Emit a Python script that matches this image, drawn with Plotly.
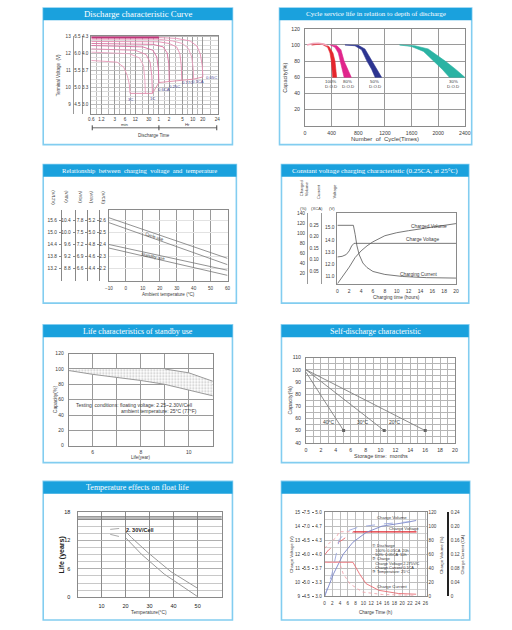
import plotly.graph_objects as go
import math

# ======================= DATA =======================
# Panel 1 - Discharge characteristic curve (time in minutes, 12V block voltage)
p1_rates = ['0.05C', '0.1CA', '0.17C', '0.25C', '0.6CA', '1C', '2C', '3C']
p1_time = [
    [0.6, 60, 200, 500, 800, 1000, 1150, 1200],
    [0.6, 60, 150, 300, 450, 560, 620, 640],
    [0.6, 60, 120, 200, 250, 275, 285],
    [0.6, 40, 80, 105, 118, 122],
    [0.6, 20, 40, 52, 58, 60],
    [0.6, 12, 25, 33, 37, 38.7],
    [0.6, 8, 16, 21, 23, 24],
    [0.6, 3.5, 5.5, 7, 8, 8.4],
]
p1_volt = [
    [12.95, 12.95, 12.9, 12.75, 12.45, 12.0, 11.3, 10.63],
    [12.85, 12.85, 12.75, 12.6, 12.3, 11.8, 11.1, 10.5],
    [12.72, 12.7, 12.6, 12.4, 12.0, 11.3, 10.45],
    [12.6, 12.55, 12.4, 12.05, 11.4, 10.35],
    [12.48, 12.4, 12.2, 11.8, 11.1, 10.3],
    [12.28, 12.2, 11.95, 11.5, 10.7, 9.66],
    [12.09, 12.0, 11.75, 11.3, 10.5, 9.66],
    [11.6, 11.5, 11.2, 10.7, 10.2, 9.66],
]
p1_end_time = [8.4, 38.7, 60, 122, 285, 640, 1200]
p1_end_volt = [9.66, 9.66, 10.3, 10.35, 10.45, 10.5, 10.63]
p1_xtick_vals = [0.6, 1.2, 3, 6, 12, 30, 60, 120, 300, 600, 1200, 3200]
p1_xtick_text = ['0.6', '1.2', '3', '6', '12', '30', '1', '2', '5', '10', '20', '24']
p1_xminor = [0.85, 1.9, 4.2, 8.5, 19, 42, 85, 190, 420, 850, 1950]
p1_vvals = [9, 10, 11, 12, 13]
p1_v12 = ['9', '10', '11', '12', '13']
p1_v6 = ['4.5', '5.0', '5.5', '6.0', '6.5']
p1_v4 = ['3.0', '3.3', '3.7', '4.0', '4.3']
p1_label_rates = ['3C', '1C', '0.6CA', '0.25C', '0.17C', '0.1CA', '0.05C']

# Panel 2 - Cycle service life vs depth of discharge
p2_dod = ['100%', '80%', '50%', '30%']
p2_in_cyc = [[100, 250, 340, 375, 395, 410, 416], [380, 450, 500, 530, 560, 587],
             [600, 750, 850, 930, 1000, 1053], [1420, 1600, 1780, 1934, 2060, 2169]]
p2_in_cap = [[100, 101, 97, 90, 80, 70, 60], [100, 97, 90, 80, 70, 60],
             [100, 99, 94, 80, 70, 60], [100, 98, 92, 80, 70, 60]]
p2_out_cyc = [[100, 250, 360, 420, 450, 465, 475], [380, 480, 540, 587, 640, 695],
              [600, 800, 900, 1004, 1080, 1150], [1420, 1650, 1850, 2105, 2260, 2400]]
p2_out_cap = [[100, 101.5, 98, 90, 80, 70, 60], [100, 99, 94, 80, 70, 60],
              [100, 99.5, 95, 80, 70, 60], [100, 99, 95, 80, 70, 60]]
p2_hump_cyc = [30, 120, 200, 280, 340]
p2_hump_cap = [100, 101.8, 102, 101, 99]
p2_xticks = [0, 400, 800, 1200, 1600, 2000, 2400]
p2_yticks = [20, 40, 60, 80, 100, 120]

# Panel 3 - Charging voltage vs temperature (V/cell)
p3_temp = [-10, 60]
p3_cycle_hi = [2.625, 2.283]
p3_cycle_lo = [2.584, 2.23]
p3_standby_hi = [2.40, 2.183]
p3_standby_lo = [2.37, 2.14]
p3_cell_vals = [2.2, 2.3, 2.4, 2.5, 2.6]
p3_v12 = ['13.2', '13.8', '14.4', '15.0', '15.6']
p3_v8 = ['8.8', '9.2', '9.6', '10.0', '10.4']
p3_v6 = ['6.6', '6.9', '7.2', '7.5', '7.8']
p3_v4 = ['4.4', '4.6', '4.8', '5.0', '5.2']
p3_vc = ['2.2', '2.3', '2.4', '2.5', '2.6']
p3_heads = ['(V/12V)', '(V/8V)', '(V/6V)', '(V/4V)', '(V/CE)']
p3_xticks = [-10, 0, 10, 20, 30, 40, 50, 60]

# Panel 4 - Constant voltage charging (0.25CA, 25C)
p4_vt = [0, 0.8, 1.5, 2.0, 2.4, 2.8, 3.0, 20]
p4_volt = [12.6, 12.65, 12.8, 13.1, 13.5, 13.72, 13.72, 13.72]
p4_it = [0, 2.7, 3.0, 3.3, 3.7, 4.3, 5.0, 6.0, 8.0, 11, 15, 20]
p4_curr = [0.25, 0.25, 0.21, 0.16, 0.12, 0.085, 0.065, 0.048, 0.035, 0.026, 0.021, 0.019]
p4_qt = [0, 1, 2, 3, 4, 5, 6, 8, 10, 12, 15, 20]
p4_vol = [0, 16, 33, 52, 65, 75, 83, 95, 101, 105, 110, 119]
p4_vol_ticks = [0, 20, 40, 60, 80, 100, 120, 140]
p4_cur_ticks = [0.05, 0.10, 0.15, 0.20, 0.25]
p4_cur_text = ['0.05', '0.10', '0.15', '0.20', '0.25']
p4_v_ticks = [11, 12, 13, 14, 15]
p4_v_text = ['11.0', '12.0', '13.0', '14.0', '15.0']
p4_xticks = [0, 2, 4, 6, 8, 10, 12, 14, 16, 18, 20]

# Panel 5 - Life characteristics of standby use
p5_year = [5, 6, 7, 8, 9, 10, 11]
p5_hi = [99, 100, 100, 100, 100, 95, 84]
p5_lo = [98, 93, 89, 85, 80, 72.5, 65]
p5_xvals = [5, 6, 7, 8, 9, 10, 11]
p5_xtext = ['', '6', '', '8', '', '10', '']

# Panel 6 - Self-discharge
p6_temps = ['40°C', '30°C', '20°C']
p6_month = [[0, 5.05], [0, 10.5], [0, 16]]
p6_cap = [[98, 50], [100, 50], [100, 50]]

# Panel 7 - Temperature effects on float life
p7_hi_dash_t = [13.6, 17.7, 19.8]
p7_hi_dash_y = [14.35, 14.56, 14.0]
p7_hi_t = [19.8, 22.5, 29.3, 38.9, 49.8]
p7_hi_y = [14.0, 12.6, 9.45, 5.4, 1.96]
p7_lo_dash_t = [13.6, 18.4, 20.2]
p7_lo_dash_y = [13.3, 12.8, 12.5]
p7_lo_t = [20.2, 26.6, 36.1, 49.8]
p7_lo_y = [12.5, 9.1, 4.9, 0.2]

# Panel 8 - Charging characteristic curves
p8_vline_t = [7.4, 23.7]
p8_vline_v = [13.59, 13.59]
p8_va_t = [0, 1, 2, 3, 3.8, 7.4]
p8_va_v = [12.4, 12.75, 12.95, 13.2, 13.6, 13.6]
p8_vb_t = [0, 1, 2, 3.5, 4.5, 6, 7.4]
p8_vb_v = [11.95, 12.3, 12.5, 12.85, 13.0, 13.3, 13.59]
p8_qa_t = [0, 2.3, 4.8, 7.3, 10.7, 14.8, 20.7, 23.6]
p8_qa = [0, 32, 60, 77, 91, 100, 105, 108]
p8_qb_t = [0, 1.9, 3.8, 5.7, 9, 14.8, 23.6]
p8_qb = [0, 32, 81, 93, 99, 103, 107]
p8_ia_t = [0, 7.3, 9, 10.7, 14, 19, 23.6]
p8_ia = [0.097, 0.097, 0.064, 0.036, 0.017, 0.008, 0.006]
p8_ib_t = [0, 3.8, 4.8, 6.5, 9.8, 15, 23.6]
p8_ib = [0.097, 0.097, 0.064, 0.036, 0.012, 0.005, 0.003]
p8_vvals = [9, 10, 11, 12, 13, 14, 15]
p8_v12 = ['9', '10', '11', '12', '13', '14', '15']
p8_v6vals = [4.5, 5.0, 5.5, 6.0, 6.5, 7.0, 7.5]
p8_v6 = ['4.5', '5.0', '5.5', '6.0', '6.5', '7.0', '7.5']
p8_v4 = ['3.0', '3.3', '3.7', '4.0', '4.3', '4.7', '5.0']
p8_xticks = [0, 2, 4, 6, 8, 10, 12, 14, 16, 18, 20, 22, 24, 26]
p8_cur_ticks = [0, 0.04, 0.08, 0.12, 0.16, 0.20, 0.24]
p8_cur_text = ['0', '0.04', '0.08', '0.12', '0.16', '0.20', '0.24']
p8_vol_ticks = [0, 20, 40, 60, 80, 100, 120]

titles = ['Discharge characteristic Curve',
          'Cycle service life in relation to depth of discharge',
          'Relationship  between  charging  voltage  and  temperature',
          'Constant voltage charging characteristic (0.25CA, at 25°C)',
          'Life characteristics of standby use',
          'Self-discharge characteristic',
          'Temperature effects on float life',
          '']

# ======================= LAYOUT HELPERS =======================
W, H = 512, 630
def px(x): return x / W
def py(y): return 1 - y / H
def xn(n): return 'x' if n == 1 else f'x{n}'
def yn(n): return 'y' if n == 1 else f'y{n}'
def xk(n): return 'xaxis' if n == 1 else f'xaxis{n}'
def yk(n): return 'yaxis' if n == 1 else f'yaxis{n}'

FONT = 'Liberation Sans, Arial, sans-serif'
SERIF = 'Liberation Serif, Times New Roman, serif'
TXT = '#3a3a3a'
GRID = '#cfcfcf'
DGRID = '#9a9a9a'
FRAME = '#8a8a8a'
BLUE = '#1aa1dd'
BORDER = '#82cdf0'

fig = go.Figure()
layout = {}
shapes = []
annotations = []

def tf(size=5, color=TXT, family=FONT):
    return dict(size=size, color=color, family=family)

def set_axes(n, box, xkw, ykw):
    x0, y0, x1, y1 = box
    X = dict(domain=[px(x0), px(x1)], anchor=yn(n), showline=True, linecolor=FRAME, linewidth=1,
             mirror=True, zeroline=False, showgrid=True, gridcolor=GRID, ticks='', tickfont=tf(5),
             fixedrange=True, ticklabelstandoff=1)
    Y = dict(domain=[py(y1), py(y0)], anchor=xn(n), showline=True, linecolor=FRAME, linewidth=1,
             mirror=True, zeroline=False, showgrid=True, gridcolor=GRID, ticks='', tickfont=tf(5),
             fixedrange=True, ticklabelstandoff=1)
    X.update(xkw)
    Y.update(ykw)
    layout[xk(n)] = X
    layout[yk(n)] = Y

def free_y(idx, n, box, xpos, rng, vals, text, xfirst, side='left', showline=False, lc=FRAME, lw=1,
           ticks='', ticklen=2, size=5, anchor='free'):
    x0, y0, x1, y1 = box
    d = dict(overlaying=yn(n), side=side, range=rng, tickvals=vals, ticktext=text,
             domain=[py(y1), py(y0)], showgrid=False, zeroline=False, showline=showline,
             linecolor=lc, linewidth=lw, ticks=ticks, ticklen=ticklen, tickcolor=lc,
             tickfont=tf(size), fixedrange=True, ticklabelstandoff=1)
    if anchor == 'free':
        d.update(anchor='free', position=px(xpos))
    else:
        d.update(anchor=anchor)
    layout[yk(idx)] = d
    # invisible carrier so that the extra scale gets drawn
    fig.add_trace(go.Scatter(x=[xfirst] * len(vals), y=vals, mode='markers', marker=dict(opacity=0, size=1),
                             xaxis=xn(n), yaxis=yn(idx), showlegend=False, hoverinfo='skip'))

def line(n, x, y, color, width=1, dash=None, yref=None, **kw):
    fig.add_trace(go.Scatter(x=x, y=y, mode='lines', line=dict(color=color, width=width, dash=dash),
                             xaxis=xn(n), yaxis=yref or yn(n), showlegend=False, hoverinfo='skip', **kw))

def txt(x, y, text, size=5, color=TXT, xref='paper', yref='paper', angle=0,
        xanchor='center', yanchor='middle', family=FONT):
    if xref == 'paper':
        x = px(x)
    if yref == 'paper':
        y = py(y)
    annotations.append(dict(x=x, y=y, xref=xref, yref=yref, text=text, showarrow=False,
                            font=dict(size=size, color=color, family=family), textangle=angle,
                            xanchor=xanchor, yanchor=yanchor, borderpad=0))

def hline_px(x0, x1, y, color='#333', w=1):
    shapes.append(dict(type='line', xref='paper', yref='paper', x0=px(x0), x1=px(x1),
                       y0=py(y), y1=py(y), line=dict(color=color, width=w)))

def vline_px(x, y0, y1, color='#333', w=1):
    shapes.append(dict(type='line', xref='paper', yref='paper', x0=px(x), x1=px(x),
                       y0=py(y0), y1=py(y1), line=dict(color=color, width=w)))

# ---------- panel frames ----------
panels = [(40, 5, 233, 143, 8.8), (281, 5, 477, 143, 7.0),
          (40, 163, 237, 303, 6.6), (283, 163, 474, 303, 7.0),
          (40, 325, 233, 464, 8.0), (283, 325, 474, 464, 8.0),
          (40, 483, 233, 623, 8.0), (283, 483, 475, 623, 8.0)]
for (l, t, r, b, fs), title in zip(panels, titles):
    shapes.append(dict(type='rect', xref='paper', yref='paper', x0=px(l), x1=px(r), y0=py(b), y1=py(t),
                       line=dict(color=BORDER, width=1.6), fillcolor='rgba(0,0,0,0)'))
    shapes.append(dict(type='rect', xref='paper', yref='paper', x0=px(l), x1=px(r), y0=py(t + 12.5), y1=py(t),
                       line=dict(width=0), fillcolor=BLUE))
    if title:
        txt((l + r) / 2, t + 6.5, title, size=fs, color='white', family=SERIF)

# ======================= PANEL 1 =======================
B1 = (89, 33, 218, 112)
set_axes(1, B1,
         dict(type='log', range=[math.log10(0.6), math.log10(3300)], tickvals=p1_xtick_vals,
              ticktext=p1_xtick_text, gridcolor=DGRID, tickfont=tf(4.6),
              minor=dict(tickvals=p1_xminor, showgrid=True, gridcolor=DGRID, gridwidth=0.7)),
         dict(range=[8.45, 13.06], tickvals=p1_vvals, ticktext=p1_v4, tickfont=tf(4.6),
              gridcolor='#bdbdbd', minor=dict(dtick=0.25, showgrid=True, gridcolor='#dddddd')))
free_y(20, 1, B1, 80, [8.45, 13.06], p1_vvals, p1_v6, 0.6, showline=True, lc='#999', size=4.6)
free_y(21, 1, B1, 70, [8.45, 13.06], p1_vvals, p1_v12, 0.6, showline=True, lc='#999', size=4.6)
pinks = ['#e88fb4', '#eaa0bf', '#e48bb0', '#d9709e', '#d96ca0', '#e084ad', '#e9a3c1', '#e99ab9']
for i, (t, v) in enumerate(zip(p1_time, p1_volt)):
    line(1, t, v, pinks[i], width=0.9)
line(1, p1_time[0][:2], p1_volt[0][:2], '#c2357a', width=2)
line(1, p1_end_time, p1_end_volt, '#e08aa8', width=0.9)
p1_lab_pos = [(8.6, 9.31), (40, 9.37), (84, 9.9), (174, 10.07), (415, 10.31), (867, 10.37), (2205, 10.6)]
for lab, (t, v) in zip(p1_label_rates, p1_lab_pos):
    txt(math.log10(t), v, lab, size=4.2, color='#4d4d9a', xref='x', yref='y')
txt(55, 73, 'Terminal Voltage  (V)', size=4.5, angle=-90)
hline_px(90, 217, 126, '#444', 0.8)
for xx in (90, 158, 217):
    vline_px(xx, 123.5, 128.5, '#444', 1)
txt(123, 122.5, 'min', size=4.3)
txt(187, 122.5, 'Hr', size=4.3)
txt(153, 133.5, 'Discharge Time', size=4.5)

# ======================= PANEL 2 =======================
B2 = (307, 26, 470, 124)
set_axes(2, B2,
         dict(range=[0, 2400], tickvals=p2_xticks, gridcolor=DGRID, tickfont=tf(5.2), ticklabelstandoff=2),
         dict(range=[0, 120], tickvals=p2_yticks, gridcolor=DGRID, tickfont=tf(5.2), ticklabelstandoff=3))
p2_colors = ['#e5262d', '#e0268c', '#2d3591', '#2bb3a3']
for i in range(4):
    xs = p2_in_cyc[i] + p2_out_cyc[i][::-1]
    ys = p2_in_cap[i] + p2_out_cap[i][::-1]
    fig.add_trace(go.Scatter(x=xs, y=ys, mode='lines', fill='toself', fillcolor=p2_colors[i],
                             line=dict(color=p2_colors[i], width=0.6), xaxis='x2', yaxis='y2',
                             showlegend=False, hoverinfo='skip'))
line(2, p2_hump_cyc, p2_hump_cap, '#f2a3b8', width=1.6)
p2_lab_x = [385, 640, 1050, 2225]
for lab, xx in zip(p2_dod, p2_lab_x):
    txt(xx, 55, lab, size=4.4, xref='x2', yref='y2')
    txt(xx, 48.5, 'D.O.D', size=4.4, xref='x2', yref='y2')
txt(287, 75, 'Capacity(%)', size=5.5, angle=-90)
txt(388.5, 137, 'Number  of  Cycle(Times)', size=6)

# ======================= PANEL 3 =======================
B3 = (107, 209, 228, 281)
set_axes(3, B3,
         dict(range=[-10, 60], tickvals=p3_xticks, gridcolor=DGRID, tickfont=tf(4.6), ticklabelstandoff=2),
         dict(range=[2.09, 2.69], tickvals=p3_cell_vals, ticktext=p3_vc, gridcolor='#e2e2e2',
              tickfont=tf(4.8), showline=True))
free_y(22, 3, B3, 97, [2.09, 2.69], p3_cell_vals, p3_v4, -10, showline=True, lc='#888', ticks='outside', size=4.8)
free_y(23, 3, B3, 85, [2.09, 2.69], p3_cell_vals, p3_v6, -10, showline=True, lc='#888', ticks='outside', size=4.8)
free_y(24, 3, B3, 72, [2.09, 2.69], p3_cell_vals, p3_v8, -10, showline=True, lc='#888', ticks='outside', size=4.8)
free_y(25, 3, B3, 58, [2.09, 2.69], p3_cell_vals, p3_v12, -10, showline=True, lc='#888', ticks='outside', size=4.8)
for yy in (p3_cycle_hi, p3_cycle_lo, p3_standby_hi, p3_standby_lo):
    line(3, p3_temp, yy, '#777', width=0.8)
txt(16.7, 2.47, 'Cycle use', size=4.3, xref='x3', yref='y3', angle=18.7)
txt(16.2, 2.30, 'Standby use', size=4.3, xref='x3', yref='y3', angle=12)
for hx, head in zip([51, 64, 78, 90, 102], p3_heads):
    txt(hx, 196, head, size=4.3, angle=90)
txt(167.5, 294, 'Ambient temperature (°C)', size=4.6)

# ======================= PANEL 4 =======================
B4 = (340, 212, 461, 283.5)
set_axes(4, B4,
         dict(range=[0, 20], tickvals=p4_xticks, showgrid=False, tickfont=tf(5), ticklabelstandoff=2),
         dict(range=[0, 140], tickvals=p4_vol_ticks, showticklabels=False, showgrid=False))
free_y(26, 4, B4, 309, [0, 140], p4_vol_ticks[1:], [str(v) for v in p4_vol_ticks[1:]], 0,
       showline=True, lc='#999', size=4.8)
free_y(27, 4, B4, 323, [-0.006, 0.304], p4_cur_ticks, p4_cur_text, 0, showline=True, lc='#999', size=4.8)
free_y(28, 4, B4, 338, [10.39, 16.22], p4_v_ticks, p4_v_text, 0, showline=False, size=4.8)
line(4, p4_vt, p4_volt, '#555', width=0.8, yref='y28')
line(4, p4_it, p4_curr, '#555', width=0.8, yref='y27')
line(4, p4_qt, p4_vol, '#555', width=0.8)
txt(15.5, 114, 'Charged Volume', size=4.8, xref='x4', yref='y4')
txt(14.3, 14.03, 'Charge Voltage', size=4.8, xref='x4', yref='y28')
txt(13.6, 0.034, 'Charging Current', size=4.8, xref='x4', yref='y27')
txt(303, 187, 'Charged', size=4.2, angle=-90)
txt(308, 187, 'Volume', size=4.2, angle=-90)
txt(320, 190, 'Current', size=4.2, angle=-90)
txt(337, 190, 'Voltage', size=4.2, angle=-90)
txt(305, 207, '(%)', size=4.2)
txt(319, 207, '(XCA)', size=4.2)
txt(335, 207, '(V)', size=4.2)
txt(400.5, 297, 'Charging time (hours)', size=4.8)

# ======================= PANEL 5 =======================
B5 = (66, 354, 213, 447)
set_axes(5, B5,
         dict(range=[5, 11], tickvals=p5_xvals, ticktext=p5_xtext, gridcolor=DGRID, tickfont=tf(5),
              ticklabelstandoff=1),
         dict(range=[0, 120], dtick=20, gridcolor=DGRID, tickfont=tf(5), ticklabelstandoff=3))
fig.add_trace(go.Scatter(x=p5_year + p5_year[::-1], y=p5_hi + p5_lo[::-1], mode='lines', fill='toself',
                         fillcolor='rgba(255,255,255,0)',
                         fillpattern=dict(shape='.', fgcolor='#8a8a8a', bgcolor='white', size=3, solidity=0.3),
                         line=dict(width=0), xaxis='x5', yaxis='y5', showlegend=False, hoverinfo='skip'))
line(5, p5_year, p5_lo, '#999', width=1)
line(5, p5_year[4:], p5_hi[4:], '#999', width=1)
txt(72, 406, 'Testing  conditions: floating voltage: 2.25~2.30V/Cell', size=5, xanchor='left')
txt(118, 412, 'ambient temperature: 25°C (77°F)', size=5, xanchor='left')
txt(52, 400, 'Capacity(%)', size=5, angle=-90)
txt(139.5, 458.5, 'Life(year)', size=4.5)

# ======================= PANEL 6 =======================
B6 = (308, 358, 460, 444)
set_axes(6, B6,
         dict(range=[0, 20], dtick=2, gridcolor='#b5b5b5', tickfont=tf(5.2), ticklabelstandoff=2,
              minor=dict(dtick=1, showgrid=True, gridcolor='#b5b5b5')),
         dict(range=[40, 110], dtick=10, gridcolor='#b5b5b5', tickfont=tf(5.2), ticklabelstandoff=3,
              minor=dict(dtick=5, showgrid=True, gridcolor='#b5b5b5')))
for m, c in zip(p6_month, p6_cap):
    line(6, m, c, '#808080', width=0.9)
fig.add_trace(go.Scatter(x=[m[-1] for m in p6_month], y=[c[-1] for c in p6_cap], mode='markers',
                         marker=dict(symbol='square', size=3, color='#666'), xaxis='x6', yaxis='y6',
                         showlegend=False, hoverinfo='skip'))
for lab, xx in zip(p6_temps, [3.1, 7.7, 11.9]):
    txt(xx, 57.3, lab, size=5, xref='x6', yref='y6')
txt(292, 401, 'Capacity(%)', size=5.2, angle=-90)
txt(384, 457, 'Storage time:  months', size=5.5)

# ======================= PANEL 7 =======================
B7 = (75, 514, 222, 600)
set_axes(7, B7,
         dict(range=[0, 60], tickvals=[10, 20, 30, 40, 50], gridcolor='#8c8c8c',
              tickfont=tf(5.5, '#222'), ticklabelstandoff=3),
         dict(range=[0, 18], tickvals=[0, 6, 12, 18], gridcolor='#b0b0b0', tickfont=tf(5.5, '#222'),
              ticklabelstandoff=5, minor=dict(dtick=1.5, showgrid=True, gridcolor='#c8c8c8')))
for yy in (16.5, 17.0):
    shapes.append(dict(type='line', xref='x7 domain', yref='y7', x0=0, x1=1, y0=yy, y1=yy,
                       line=dict(color='#777', width=1.2)))
line(7, p7_hi_dash_t, p7_hi_dash_y, '#aaa', width=1, dash='dash')
line(7, p7_lo_dash_t, p7_lo_dash_y, '#aaa', width=1, dash='dash')
line(7, p7_hi_t, p7_hi_y, '#999', width=1)
line(7, p7_lo_t, p7_lo_y, '#999', width=1)
txt(26, 14.3, '<b>2. 30V/Cell</b>', size=5.5, xref='x7', yref='y7', color='#222')
txt(59, 557, '<b>Life (years)</b>', size=7, angle=-90, color='#222')
txt(148, 615, 'Temperature(°C)', size=4.8)

# ======================= PANEL 8 =======================
B8 = (327, 514, 431, 599)
set_axes(8, B8,
         dict(range=[0, 26.3], tickvals=p8_xticks, gridcolor='#bdbdbd', tickfont=tf(4.6), ticklabelstandoff=2),
         dict(range=[9, 15], tickvals=p8_vvals, ticktext=p8_v4, gridcolor='#bdbdbd', tickfont=tf(4.6),
              minor=dict(dtick=0.5, showgrid=True, gridcolor='#d3d3d3')))
free_y(29, 8, B8, 316, [4.5, 7.5], p8_v6vals, p8_v6, 0, ticks='outside', lc='#666', ticklen=2, size=4.6)
free_y(30, 8, B8, 306, [9, 15], p8_vvals, p8_v12, 0, ticks='outside', lc='#666', ticklen=2, size=4.6)
free_y(31, 8, B8, 0, [0, 120], p8_vol_ticks, [str(v) for v in p8_vol_ticks], 0, side='right',
       anchor='x8', size=4.6)
free_y(32, 8, B8, 452, [0, 0.24], p8_cur_ticks, p8_cur_text, 0, side='right', showline=True,
       lc='#222', lw=1.6, size=4.6)
line(8, p8_va_t, p8_va_v, '#f0a0a8', width=0.9, dash='dot')
line(8, p8_vb_t, p8_vb_v, '#e86a70', width=0.9, dash='dash')
line(8, p8_vline_t, p8_vline_v, '#e0242c', width=1.4)
line(8, p8_qa_t, p8_qa, '#7a86c8', width=0.9, yref='y31')
line(8, p8_qb_t, p8_qb, '#9aa6dc', width=0.9, dash='dash', yref='y31')
line(8, p8_ia_t, p8_ia, '#e86a70', width=0.9, yref='y32')
line(8, p8_ib_t, p8_ib, '#f2a4ab', width=0.9, dash='dot', yref='y32')
txt(17.5, 113, 'Charge Volume', size=4.3, xref='x8', yref='y31')
txt(20.5, 13.8, 'Charge Voltage', size=4.3, xref='x8', yref='y8')
txt(17.5, 0.027, 'Charge Current', size=4.3, xref='x8', yref='y32')
box_lines = ['① Discharge', '   100%: 0.05CA  20h', '   50%: 0.05CA  10h', '② Charge',
             '   Charge Voltage 2.275V/C', '   Charge Current 0.1CA', '③ Temperature: 25°C']
for i, s in enumerate(box_lines):
    txt(374, 548 + i * 4.4, s, size=3.9, xanchor='left', color='#333')
txt(293, 557, 'Charge Voltage (V)', size=4.3, angle=-90)
txt(446, 557, 'Charge Volume (%)', size=4.3, angle=-90)
txt(468, 557, 'Charge Current (CA)', size=4.3, angle=-90)
txt(379, 615, 'Charge Time (h)', size=4.6)

fig.update_layout(width=W, height=H, margin=dict(l=0, r=0, t=0, b=0), autosize=False,
                  paper_bgcolor='white', plot_bgcolor='white', showlegend=False,
                  shapes=shapes, annotations=annotations, **layout)
fig.write_html('out.html', config=dict(displayModeBar=False, staticPlot=True),
               post_script="document.body.style.margin='0';document.body.style.padding='0';")
